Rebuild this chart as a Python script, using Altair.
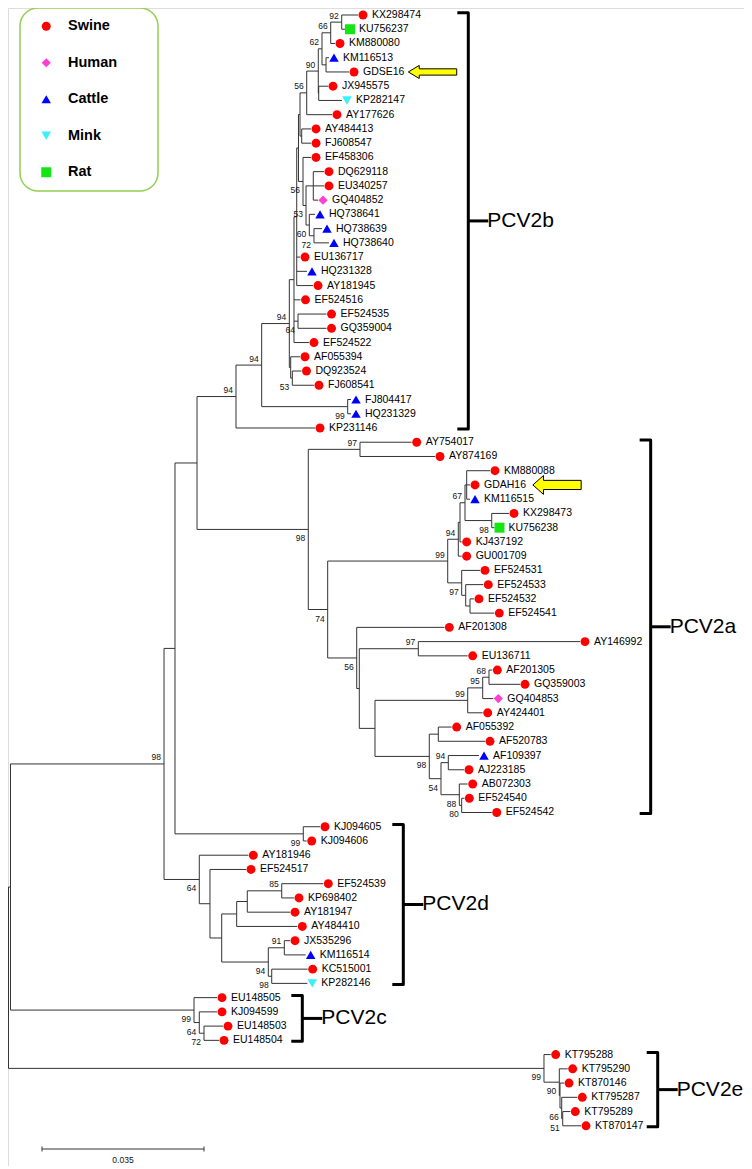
import altair as alt
import pandas as pd

# ---------------- data (depths in 0.001 substitutions/site) ----------------
leaf_names = [
    "KX298474", "KU756237", "KM880080", "KM116513", "GDSE16", "JX945575", "KP282147", "AY177626",
    "AY484413", "FJ608547", "EF458306", "DQ629118", "EU340257", "GQ404852", "HQ738641", "HQ738639",
    "HQ738640", "EU136717", "HQ231328", "AY181945", "EF524516", "EF524535", "GQ359004", "EF524522",
    "AF055394", "DQ923524", "FJ608541", "FJ804417", "HQ231329", "KP231146",
    "AY754017", "AY874169", "KM880088", "GDAH16", "KM116515", "KX298473", "KU756238", "KJ437192",
    "GU001709", "EF524531", "EF524533", "EF524532", "EF524541", "AF201308", "AY146992", "EU136711",
    "AF201305", "GQ359003", "GQ404853", "AY424401", "AF055392", "AF520783", "AF109397", "AJ223185",
    "AB072303", "EF524540", "EF524542",
    "KJ094605", "KJ094606", "AY181946", "EF524517", "EF524539", "KP698402", "AY181947", "AY484410",
    "JX535296", "KM116514", "KC515001", "KP282146",
    "EU148505", "KJ094599", "EU148503", "EU148504",
    "KT795288", "KT795290", "KT870146", "KT795287", "KT795289", "KT870147",
]
leaf_hosts = [
    "Swine", "Rat", "Swine", "Cattle", "Swine", "Swine", "Mink", "Swine",
    "Swine", "Swine", "Swine", "Swine", "Swine", "Human", "Cattle", "Cattle",
    "Cattle", "Swine", "Cattle", "Swine", "Swine", "Swine", "Swine", "Swine",
    "Swine", "Swine", "Swine", "Cattle", "Cattle", "Swine",
    "Swine", "Swine", "Swine", "Swine", "Cattle", "Swine", "Rat", "Swine",
    "Swine", "Swine", "Swine", "Swine", "Swine", "Swine", "Swine", "Swine",
    "Swine", "Swine", "Human", "Swine", "Swine", "Swine", "Cattle", "Swine",
    "Swine", "Swine", "Swine",
    "Swine", "Swine", "Swine", "Swine", "Swine", "Swine", "Swine", "Swine",
    "Swine", "Cattle", "Swine", "Mink",
    "Swine", "Swine", "Swine", "Swine",
    "Swine", "Swine", "Swine", "Swine", "Swine", "Swine",
]
leaf_parents = [
    "b92", "b92", "b66", "bKG", "bKG", "bJK", "bJK", "b56a",
    "bAF", "bAF", "b56b", "bDQ", "bDQ", "bDQ", "b60", "b72",
    "b72", "bW", "bW", "bW", "bV", "bEG", "bEG", "bV",
    "bAFD", "bAF53", "bAF53", "bFH", "bFH", "b94c",
    "a97t", "a97t", "aG", "aG", "aG", "a98b", "a98b", "aK",
    "a94", "a97", "aX", "aY", "aY", "a56", "a97c", "a97c",
    "a68", "a68", "a95", "a99c", "aAF", "aAF", "a94d", "a94d",
    "a88", "a80", "a80",
    "d99", "d99", "d64", "dE", "d85", "d85", "dI", "dG",
    "d91", "d91", "dKC", "dKC",
    "c99", "c64", "c72", "c72",
    "e99", "e90", "eX", "e66", "e51", "e51",
]
leaf_depths = [
    77.13, 74.32, 72.16, 70.86, 75.19, 70.65, 73.67, 71.51,
    66.98, 66.98, 66.98, 69.78, 69.78, 68.49, 67.84, 69.35,
    70.86, 64.60, 66.11, 67.41, 64.71, 70.33, 70.33, 66.54,
    64.60, 64.92, 67.62, 75.62, 75.62, 67.84,
    88.73, 93.77, 105.65, 101.33, 101.33, 109.75, 106.62, 99.53,
    99.53, 103.49, 104.20, 102.19, 106.58, 95.78, 125.09, 100.83,
    106.15, 112.13, 106.36, 104.07, 97.37, 104.57, 103.27, 100.03,
    100.83, 100.10, 106.02,
    68.92, 66.05, 53.43, 52.93, 69.63, 63.30, 62.44, 64.02,
    62.44, 65.83, 66.26, 66.18,
    46.67, 46.67, 47.96, 47.10,
    118.76, 122.43, 121.64, 124.51, 123.00, 125.31,
]

node_names = [
    "root", "A", "n164", "n175", "n197",
    "b94c", "b94b", "b94a", "bV", "bW", "bX", "bP", "b56a", "b90", "b62", "b66", "b92", "bKG",
    "bJK", "bAF", "b56b", "b53", "bDQ", "b60", "b72", "bEG", "bAFD", "bAF53", "bFH",
    "a98", "a97t", "a74", "a99", "a94", "aK", "a67", "aG", "a98b", "a97", "aX", "aY",
    "a56", "aZ", "a97c", "aL", "a99c", "a95", "a68", "a98c", "aAF", "a54", "a94d", "a88", "a80",
    "d99", "d64", "dE", "dF", "dG", "dI", "d85", "dH", "d91", "dKC",
    "c99", "c64", "c72",
    "e99", "e90", "eX", "e66", "e51",
]
node_parents = [
    None, "root", "A", "n164", "n175",
    "n197", "b94c", "b94b", "b94a", "bV", "bW", "bX", "bP", "b56a", "b90", "b62", "b66", "b62",
    "b90", "bP", "bX", "b56b", "b53", "b53", "b60", "bV", "b94a", "bAFD", "b94b",
    "n197", "a98", "a98", "a74", "a99", "a94", "aK", "a67", "a67", "a99", "a97", "aX",
    "a74", "a56", "aZ", "aZ", "aL", "a99c", "a95", "aL", "a98c", "a98c", "a54", "a54", "a88",
    "n175", "n164", "d64", "dE", "dF", "dG", "dI", "dF", "dH", "dH",
    "A", "c99", "c64",
    "root", "e99", "e90", "eX", "e66",
]
node_depths = [
    1.62, 2.05, 35.22, 37.59, 42.35,
    50.77, 56.32, 62.29, 63.30, 63.89, 64.27, 64.60, 66.05, 68.55, 69.35, 71.23, 73.61, 70.22,
    68.64, 64.97, 65.25, 65.90, 67.47, 66.61, 67.62, 64.17, 62.59, 62.94, 74.90,
    66.39, 77.56, 70.58, 96.51, 98.80, 99.17, 100.25, 100.61, 106.02, 99.53, 100.40, 101.33,
    76.85, 77.41, 90.16, 80.80, 100.83, 104.07, 105.43, 92.53, 94.48, 95.06, 96.64, 99.02, 99.53,
    65.31, 42.84, 45.15, 47.68, 50.92, 53.21, 60.65, 57.75, 61.21, 58.49,
    41.70, 42.84, 43.86,
    117.31, 120.62, 120.77, 121.14, 121.36,
]
node_support = [
    0, 0, 98, 0, 0,
    94, 94, 94, 0, 0, 0, 0, 56, 90, 62, 66, 92, 0,
    0, 0, 56, 53, 0, 60, 72, 64, 0, 53, 99,
    98, 97, 74, 99, 94, 0, 67, 0, 98, 97, 0, 0,
    56, 0, 97, 0, 99, 95, 68, 98, 0, 54, 94, 88, 80,
    99, 64, 0, 0, 0, 0, 85, 94, 91, 98,
    99, 64, 72,
    99, 90, 0, 66, 51,
]
# "a" = value printed above the branch, "b" = below
node_support_pos = [
    "", "", "a", "", "",
    "a", "a", "a", "", "", "", "", "a", "a", "a", "a", "a", "",
    "", "", "b", "b", "", "b", "b", "b", "", "b", "b",
    "b", "a", "b", "a", "a", "", "a", "", "b", "b", "", "",
    "b", "", "a", "", "a", "a", "a", "b", "", "b", "a", "b", "b",
    "b", "b", "", "", "", "", "a", "b", "a", "b",
    "b", "b", "b",
    "b", "b", "", "b", "b",
]

host_order = ["Swine", "Human", "Cattle", "Mink", "Rat"]
host_colors = ["#FF0000", "#FF3FD2", "#0000FF", "#3CF0FA", "#14E614"]
host_shapes = ["circle", "diamond", "triangle-up", "triangle-down", "square"]
host_sizes = [80, 100, 105, 105, 80]

clade_names = ["PCV2b", "PCV2a", "PCV2d", "PCV2c", "PCV2e"]
clade_first = ["KX298474", "AY754017", "KJ094605", "EU148505", "KT795288"]
clade_last = ["KP231146", "EF524542", "KP282146", "EU148504", "KT870147"]
clade_bracket_depth = [100.96, 140.36, 86.92, 65.10, 141.88]

arrow_leaves = ["GDSE16", "GDAH16"]

scale_bar_value = 0.035
scale_bar_text = "0.035"
scale_bar_start = 8.86

# ---------------- layout helpers ----------------
FONT = "Liberation Sans"
W, H = 736, 1158
PX = scale_bar_value * 1000 / 162.0  # depth units per pixel
xs = alt.Scale(domain=[7 * PX, (W + 7) * PX], nice=False, zero=False)
ys = alt.Scale(domain=[-0.4915, 80.823], nice=False, zero=False, reverse=True)

parent_of = dict(zip(leaf_names, leaf_parents))
parent_of.update(zip(node_names, node_parents))
depth = dict(zip(leaf_names, leaf_depths))
depth.update(zip(node_names, node_depths))
children = {}
for n, p in parent_of.items():
    if p:
        children.setdefault(p, []).append(n)
ypos = {n: float(i) for i, n in enumerate(leaf_names)}


def y_of(n):
    if n not in ypos:
        vals = [y_of(c) for c in children[n]]
        ypos[n] = (min(vals) + max(vals)) / 2.0
    return ypos[n]


for n in node_names:
    y_of(n)

edges = []
for n, p in parent_of.items():
    if p:
        edges.append(dict(x=depth[p], x2=depth[n], y=ypos[n], y2=ypos[n]))
for n in node_names:
    vals = [ypos[c] for c in children[n]]
    edges.append(dict(x=depth[n], x2=depth[n], y=min(vals), y2=max(vals)))
edges = pd.DataFrame(edges)

leaves = pd.DataFrame({
    "name": leaf_names, "host": leaf_hosts, "depth": leaf_depths,
    "idx": list(range(len(leaf_names))),
})

sup = pd.DataFrame({
    "depth": node_depths, "y": [ypos[n] for n in node_names],
    "label": [str(s) for s in node_support], "pos": node_support_pos,
})
sup = sup[sup["pos"] != ""]

br_rows, tick_rows = [], []
hook = 11 * PX
for c, f, l, bx in zip(clade_names, clade_first, clade_last, clade_bracket_depth):
    top, bot = ypos[f] - 0.15, ypos[l] + 0.07
    br_rows += [
        dict(clade=c, o=0, x=bx - hook, y=top),
        dict(clade=c, o=1, x=bx, y=top),
        dict(clade=c, o=2, x=bx, y=bot),
        dict(clade=c, o=3, x=bx - hook, y=bot),
    ]
    tick_rows.append(dict(clade=c, x=bx, x2=bx + 20 * PX, y=(top + bot) / 2))
brackets = pd.DataFrame(br_rows)
ticks = pd.DataFrame(tick_rows)

arrows = leaves[leaves["name"].isin(arrow_leaves)]

X = lambda f: alt.X(f, scale=xs, axis=None)
Y = lambda f: alt.Y(f, scale=ys, axis=None)

legend = alt.Legend(
    title=None, orient="none", legendX=31, legendY=11, padding=0,
    labelFont=FONT, labelFontSize=14.5, labelFontWeight="bold", labelColor="black",
    symbolSize=130, symbolStrokeWidth=0, symbolOpacity=1, rowPadding=21.5, labelOffset=14.5,
    direction="vertical",
)

box = alt.Chart(pd.DataFrame({"a": [0]})).mark_rect(
    cornerRadius=18, fill="white", stroke="#92D050", strokeWidth=1.5
).encode(x=alt.value(12), x2=alt.value(150), y=alt.value(0), y2=alt.value(183))

lines = alt.Chart(edges).mark_rule(color="#333333", strokeWidth=1).encode(
    x=X("x:Q"), x2="x2:Q", y=Y("y:Q"), y2="y2:Q")

points = alt.Chart(leaves).mark_point(filled=True, opacity=1, xOffset=5, strokeWidth=0).encode(
    x=X("depth:Q"), y=Y("idx:Q"),
    color=alt.Color("host:N", scale=alt.Scale(domain=host_order, range=host_colors), legend=legend),
    shape=alt.Shape("host:N", scale=alt.Scale(domain=host_order, range=host_shapes), legend=legend),
    size=alt.Size("host:N", scale=alt.Scale(domain=host_order, range=host_sizes), legend=None),
)

names = alt.Chart(leaves).mark_text(
    align="left", baseline="middle", dx=14, fontSize=10.5, font=FONT, color="black"
).encode(x=X("depth:Q"), y=Y("idx:Q"), text="name:N")

sup_above = alt.Chart(sup[sup["pos"] == "a"]).mark_text(
    align="right", baseline="middle", dx=-3, dy=-6.5, fontSize=8.5, font=FONT, color="#111111"
).encode(x=X("depth:Q"), y=Y("y:Q"), text="label:N")
sup_below = alt.Chart(sup[sup["pos"] == "b"]).mark_text(
    align="right", baseline="middle", dx=-3, dy=9, fontSize=8.5, font=FONT, color="#111111"
).encode(x=X("depth:Q"), y=Y("y:Q"), text="label:N")

br = alt.Chart(brackets).mark_line(color="black", strokeWidth=3, strokeJoin="round").encode(
    x=X("x:Q"), y=Y("y:Q"), detail="clade:N", order="o:Q")
br_tick = alt.Chart(ticks).mark_rule(color="black", strokeWidth=3).encode(
    x=X("x:Q"), x2="x2:Q", y=Y("y:Q"))
br_text = alt.Chart(ticks).mark_text(
    align="left", baseline="middle", dx=19, fontSize=21, font=FONT, color="black"
).encode(x=X("x:Q"), y=Y("y:Q"), text="clade:N")

arrow1 = alt.Chart(arrows[arrows["name"] == arrow_leaves[0]]).mark_point(
    shape="M -1 0 L -0.55 -0.27 L -0.55 -0.13 L 1 -0.13 L 1 0.13 L -0.55 0.13 L -0.55 0.27 Z",
    size=2343, filled=True, fill="#FFFF00", stroke="black", strokeWidth=1, opacity=1, xOffset=83.5,
).encode(x=X("depth:Q"), y=Y("idx:Q"))
arrow2 = alt.Chart(arrows[arrows["name"] == arrow_leaves[1]]).mark_point(
    shape="M -1 0 L -0.56 -0.39 L -0.56 -0.19 L 1 -0.19 L 1 0.19 L -0.56 0.19 L -0.56 0.39 Z",
    size=2333, filled=True, fill="#FFFF00", stroke="black", strokeWidth=1, opacity=1, xOffset=87,
).encode(x=X("depth:Q"), y=Y("idx:Q"))

sb = pd.DataFrame({"x": [scale_bar_start], "x2": [scale_bar_start + scale_bar_value * 1000],
                   "label": [scale_bar_text]})
sb["mid"] = (sb["x"] + sb["x2"]) / 2
sb_line = alt.Chart(sb).mark_rule(color="#333333", strokeWidth=1).encode(
    x=X("x:Q"), x2="x2:Q", y=alt.value(1141))
sb_end1 = alt.Chart(sb).mark_rule(color="#333333", strokeWidth=1).encode(
    x=X("x:Q"), y=alt.value(1138.5), y2=alt.value(1143.5))
sb_end2 = alt.Chart(sb).mark_rule(color="#333333", strokeWidth=1).encode(
    x=X("x2:Q"), y=alt.value(1138.5), y2=alt.value(1143.5))
sb_text = alt.Chart(sb).mark_text(fontSize=8.5, font=FONT, color="#111111", baseline="middle").encode(
    x=X("mid:Q"), y=alt.value(1152), text="label:N")

chart = alt.layer(
    box, lines, points, names, sup_above, sup_below, br, br_tick, br_text, arrow1, arrow2,
    sb_line, sb_end1, sb_end2, sb_text,
).properties(
    width=W, height=H, padding=0, autosize=alt.AutoSizeParams(type="none"),
).configure_view(stroke=None).configure(background="white")

chart.save("out.html", embed_options={"renderer": "svg", "actions": False})
